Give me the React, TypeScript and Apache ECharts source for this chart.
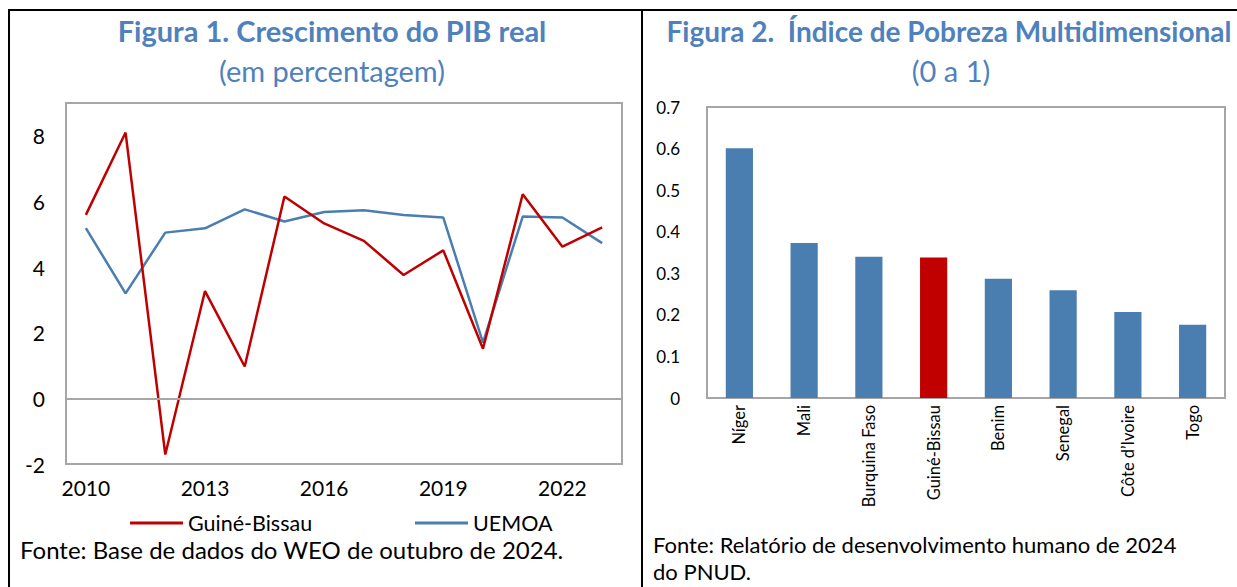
import React, { useEffect, useRef } from "react";
import * as echarts from "echarts";

const years = ["2010","2011","2012","2013","2014","2015","2016","2017","2018","2019","2020","2021","2022","2023"];
const guineBissau = [5.59, 8.10, -1.71, 3.27, 0.97, 6.15, 5.33, 4.80, 3.76, 4.51, 1.51, 6.22, 4.62, 5.21];
const uemoa = [5.19, 3.20, 5.05, 5.18, 5.76, 5.39, 5.68, 5.73, 5.59, 5.51, 1.70, 5.54, 5.51, 4.73];

const countries = ["Níger","Mali","Burquina Faso","Guiné-Bissau","Benim","Senegal","Côte d’Ivoire","Togo"];
const mpi = [0.601, 0.373, 0.340, 0.338, 0.287, 0.259, 0.207, 0.176];
const highlight = "Guiné-Bissau";

const FONT = "Lato";
const TITLE_COLOR = "#4F81BD";
const BLUE = "#4A7EB0";
const RED = "#C00000";
const GRAY = "#A6A6A6";

export default function App() {
  const ref = useRef<HTMLDivElement>(null);
  useEffect(() => {
    const chart = echarts.init(ref.current!, null, { renderer: "svg" });
    const option: any = {
      animation: false,
      textStyle: { fontFamily: FONT },
      title: [
        { text: "Figura 1. Crescimento do PIB real", left: 327, top: 11, textAlign: "center",
          textStyle: { fontFamily: FONT, fontSize: 29, fontWeight: "bold", color: TITLE_COLOR } },
        { text: "(em percentagem)", left: 327, top: 51, textAlign: "center",
          textStyle: { fontFamily: FONT, fontSize: 29, fontWeight: "normal", color: TITLE_COLOR } },
        { text: "Figura 2.  Índice de Pobreza Multidimensional", left: 944, top: 12, textAlign: "center",
          textStyle: { fontFamily: FONT, fontSize: 28, fontWeight: "bold", color: TITLE_COLOR } },
        { text: "(0 a 1)", left: 946, top: 51, textAlign: "center",
          textStyle: { fontFamily: FONT, fontSize: 29, fontWeight: "normal", color: TITLE_COLOR } },
      ],
      legend: [
        { data: ["Guiné-Bissau"], left: 125, top: 507, icon: "rect", itemWidth: 53, itemHeight: 3,
          textStyle: { fontFamily: FONT, fontSize: 21.5, color: "#000" } },
        { data: ["UEMOA"], left: 410, top: 507, icon: "rect", itemWidth: 53, itemHeight: 3,
          textStyle: { fontFamily: FONT, fontSize: 21.5, color: "#000" } },
      ],
      grid: [
        { left: 66, top: 103, width: 556, height: 361, show: true, borderColor: GRAY, borderWidth: 2, containLabel: false },
        { left: 707, top: 107, width: 518, height: 291, show: true, borderColor: GRAY, borderWidth: 2, containLabel: false },
      ],
      xAxis: [
        { type: "category", gridIndex: 0, data: years, boundaryGap: true,
          axisLine: { show: false, onZero: false }, axisTick: { show: false },
          axisLabel: { interval: 2, fontFamily: FONT, fontSize: 21, color: "#000", margin: 13 } },
        { type: "category", gridIndex: 1, data: countries,
          axisLine: { show: false }, axisTick: { show: false },
          axisLabel: { rotate: 90, interval: 0, fontFamily: FONT, fontSize: 16.5, color: "#000", margin: 7 } },
      ],
      yAxis: [
        { type: "value", gridIndex: 0, min: -2, max: 9, interval: 2,
          axisLine: { show: false }, axisTick: { show: false }, splitLine: { show: false },
          axisLabel: { showMaxLabel: false, fontFamily: FONT, fontSize: 21, color: "#000", margin: 21 } },
        { type: "value", gridIndex: 1, min: 0, max: 0.7, interval: 0.1,
          axisLine: { show: false }, axisTick: { show: false }, splitLine: { show: false },
          axisLabel: { fontFamily: FONT, fontSize: 17, color: "#000", margin: 27,
            formatter: (v: number) => (v === 0 ? "0" : v.toFixed(1)) } },
      ],
      series: [
        { name: "Guiné-Bissau", type: "line", xAxisIndex: 0, yAxisIndex: 0, data: guineBissau,
          symbol: "none", lineStyle: { color: RED, width: 2.5 }, itemStyle: { color: RED }, z: 3,
          markLine: { silent: true, symbol: "none", label: { show: false },
            lineStyle: { color: GRAY, width: 2, type: "solid" }, data: [{ yAxis: 0 }] } },
        { name: "UEMOA", type: "line", xAxisIndex: 0, yAxisIndex: 0, data: uemoa,
          symbol: "none", lineStyle: { color: BLUE, width: 2.5 }, itemStyle: { color: BLUE }, z: 2 },
        { name: "IPM", type: "bar", xAxisIndex: 1, yAxisIndex: 1, barWidth: "42%",
          data: countries.map((c, i) => ({ value: mpi[i], itemStyle: { color: c === highlight ? RED : BLUE } })) },
      ],
      graphic: [
        { type: "line", shape: { x1: 8, y1: 10, x2: 1237, y2: 10 }, style: { stroke: "#000", lineWidth: 2 } },
        { type: "line", shape: { x1: 9, y1: 9, x2: 9, y2: 587 }, style: { stroke: "#000", lineWidth: 2 } },
        { type: "line", shape: { x1: 642, y1: 9, x2: 642, y2: 587 }, style: { stroke: "#000", lineWidth: 2 } },
        { type: "text", left: 20, top: 537, style: { text: "Fonte: Base de dados do WEO de outubro de 2024.",
          font: `24px ${FONT}`, fill: "#000" } },
        { type: "text", left: 653, top: 533, style: { text: "Fonte: Relatório de desenvolvimento humano de 2024",
          font: `22px ${FONT}`, fill: "#000" } },
        { type: "text", left: 653, top: 560, style: { text: "do PNUD.",
          font: `22px ${FONT}`, fill: "#000" } },
      ],
    };
    chart.setOption(option);
    return () => chart.dispose();
  }, []);
  return <div ref={ref} style={{ position: "fixed", left: 0, top: 0, width: 1237, height: 587, background: "#fff" }} />;
}
